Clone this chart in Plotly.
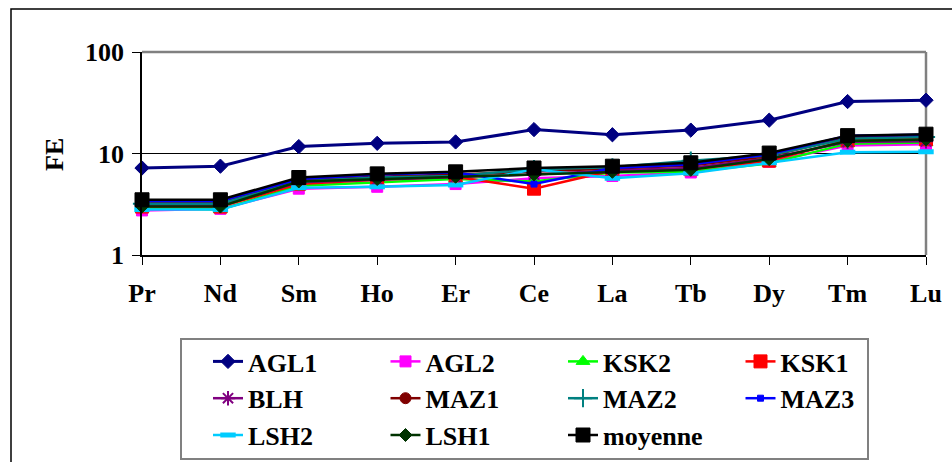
import plotly.graph_objects as go

elements = ["Pr", "Nd", "Sm", "Ho", "Er", "Ce", "La", "Tb", "Dy", "Tm", "Lu"]

AGL1 = [7.2, 7.5, 11.7, 12.6, 13.0, 17.2, 15.3, 17.0, 21.3, 32.5, 33.5]
AGL2 = [2.75, 2.85, 4.5, 4.7, 5.0, 5.7, 6.0, 6.5, 8.3, 12.0, 12.3]
KSK2 = [2.9, 2.8, 4.8, 5.2, 5.6, 5.3, 6.5, 6.6, 8.0, 12.5, 12.8]
KSK1 = [3.0, 3.0, 5.0, 5.5, 5.9, 4.5, 6.8, 7.0, 8.5, 13.5, 13.8]
BLH = [3.1, 3.1, 5.2, 5.5, 5.8, 6.2, 6.8, 7.2, 9.0, 13.0, 13.2]
MAZ1 = [3.3, 3.3, 5.5, 5.9, 6.2, 6.6, 7.1, 7.6, 9.4, 14.5, 14.8]
MAZ2 = [3.2, 3.2, 5.3, 5.8, 6.0, 7.0, 7.3, 8.5, 9.6, 14.0, 14.5]
MAZ3 = [3.4, 3.4, 5.6, 6.2, 6.5, 5.0, 7.2, 7.8, 9.8, 15.0, 15.3]
LSH2 = [2.8, 2.8, 4.6, 4.7, 4.9, 7.0, 5.7, 6.4, 8.1, 10.3, 10.4]
LSH1 = [3.0, 3.0, 5.3, 5.6, 5.9, 6.2, 6.6, 6.9, 8.8, 13.3, 13.7]
moyenne = [3.5, 3.5, 5.8, 6.3, 6.6, 7.2, 7.5, 8.1, 10.1, 15.0, 15.5]

y_ticks = [1, 10, 100]
y_ticktext = ["1", "10", "100"]

series = [
    ("AGL1", AGL1, "#000080", "diamond", 11, 1),
    ("AGL2", AGL2, "#FF00FF", "square", 11, 1),
    ("KSK2", KSK2, "#00FF00", "triangle-up", 12, 1),
    ("KSK1", KSK1, "#FF0000", "square", 13, 1),
    ("BLH", BLH, "#800080", "asterisk-open", 12, 2),
    ("MAZ1", MAZ1, "#800000", "circle", 11, 1),
    ("MAZ2", MAZ2, "#008080", "cross-thin-open", 13, 2),
    ("MAZ3", MAZ3, "#0000FF", "square", 6, 1),
    ("LSH2", LSH2, "#00CCFF", "line-ew-open", 11, 5),
    ("LSH1", LSH1, "#003300", "diamond", 10, 1),
    ("moyenne", moyenne, "#000000", "square", 14, 1),
]

FONT = "Liberation Serif"
FS = 26

fig = go.Figure()
for name, vals, color, sym, size, lw in series:
    fig.add_trace(go.Scatter(
        x=elements, y=vals, name=name, mode="lines+markers",
        line=dict(color=color, width=2.5 if name != "AGL1" else 3),
        marker=dict(symbol=sym, size=size, color=color,
                    line=dict(color=color, width=lw)),
        cliponaxis=False,
    ))

L, T, W, H = 142, 52, 784, 203
FW, FH = 952, 462

def px(x):
    return (x - L) / W

def py(y):
    return (T + H - y) / H

fig.update_layout(
    width=FW, height=FH,
    margin=dict(l=L, r=FW - L - W, t=T, b=FH - T - H, autoexpand=False),
    paper_bgcolor="white", plot_bgcolor="white",
    font=dict(family=FONT, size=FS, color="black", weight="bold"),
    xaxis=dict(
        type="category", range=[0, len(elements) - 1], automargin=False,
        showline=True, linecolor="black", linewidth=1.5,
        ticks="outside", ticklen=8, tickcolor="black", tickwidth=1,
        showgrid=False, zeroline=False, ticklabelstandoff=6,
        tickfont=dict(family=FONT, size=FS, color="black", weight="bold"),
    ),
    yaxis=dict(
        type="log", range=[0, 2], automargin=False,
        tickvals=y_ticks, ticktext=y_ticktext,
        showline=True, linecolor="black", linewidth=1.5,
        ticks="outside", ticklen=8, tickcolor="black", tickwidth=1,
        showgrid=True, gridcolor="black", gridwidth=1, zeroline=False,
        ticklabelstandoff=3,
        tickfont=dict(family=FONT, size=FS, color="black", weight="bold"),
    ),
    legend=dict(
        orientation="h", x=px(208), y=py(338), xanchor="left", yanchor="top",
        borderwidth=0, bgcolor="rgba(0,0,0,0)",
        entrywidth=132.5, entrywidthmode="pixels",
        font=dict(family=FONT, size=FS, color="black", weight="bold"),
        traceorder="normal",
    ),
    showlegend=True,
    annotations=[dict(
        text="FE", textangle=-90, x=px(54), y=py(155), xref="paper", yref="paper",
        showarrow=False, xanchor="center", yanchor="middle",
        font=dict(family=FONT, size=FS, color="black", weight="bold"),
    )],
    shapes=[
        dict(type="rect", xref="paper", yref="paper",
             x0=px(11), x1=px(990), y0=py(9), y1=py(500),
             line=dict(color="black", width=1.5), layer="below"),
        dict(type="rect", xref="paper", yref="paper",
             x0=px(181), x1=px(868), y0=py(339), y1=py(459),
             line=dict(color="#808080", width=2), layer="below"),
        dict(type="line", xref="paper", yref="paper",
             x0=0, x1=1, y0=1, y1=1,
             line=dict(color="#808080", width=2.5), layer="above"),
        dict(type="line", xref="paper", yref="paper",
             x0=1, x1=1, y0=0, y1=1,
             line=dict(color="#808080", width=2.5), layer="below"),
    ],
)

fig.write_html(
    "out.html",
    config={"displayModeBar": False},
    post_script="document.body.style.margin='0';document.body.style.overflow='hidden';",
)
